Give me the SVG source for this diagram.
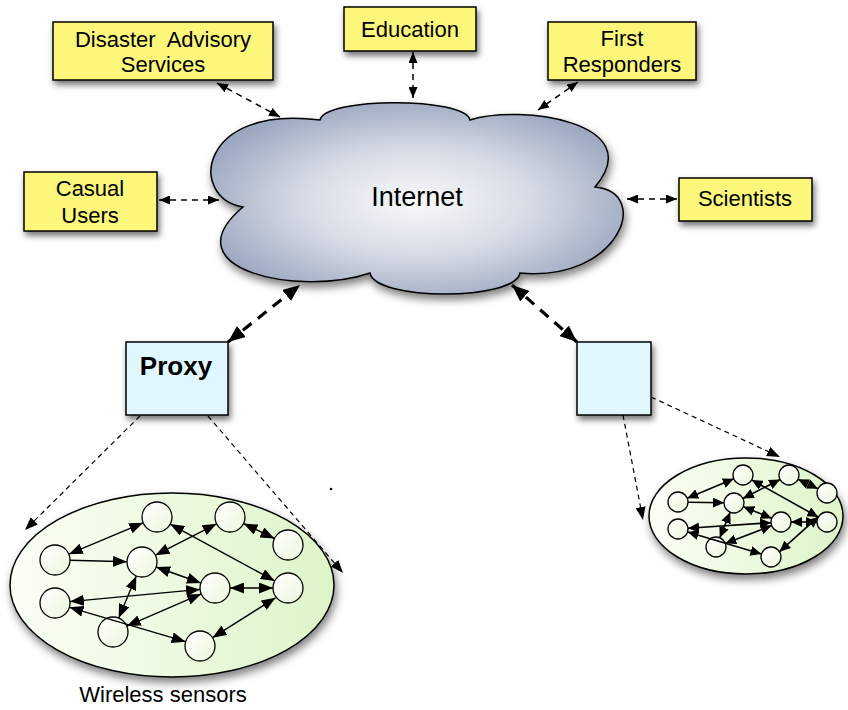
<svg xmlns="http://www.w3.org/2000/svg" width="848" height="710" viewBox="0 0 848 710">
<style>
.box{fill:#fcf77a;stroke:#000;stroke-width:1.5}
.pbox{fill:#e0f7fd;stroke:#000;stroke-width:1.5}
.t{font-family:"Liberation Sans",Arial,sans-serif;font-size:22px;fill:#000;text-anchor:middle}
.dash{fill:none;stroke:#000;stroke-width:1.5;stroke-dasharray:6 5}
.thick{fill:none;stroke:#000;stroke-width:3.2;stroke-dasharray:11 8}
.thin{fill:none;stroke:#000;stroke-width:1.2;stroke-dasharray:5 4}
.sn{fill:url(#gn);stroke:#000;stroke-width:1.3}
.e{fill:none;stroke:#000;stroke-width:1.4}
.es{fill:none;stroke:#000;stroke-width:1.6}
</style>
<defs>
<filter id="sh" x="-20%" y="-20%" width="150%" height="160%"><feDropShadow dx="2" dy="4" stdDeviation="3" flood-color="#000" flood-opacity="0.55"/></filter>
<filter id="shc" x="-10%" y="-10%" width="125%" height="130%"><feDropShadow dx="2" dy="5" stdDeviation="4" flood-color="#000" flood-opacity="0.5"/></filter>
<radialGradient id="gc" cx="0.5" cy="0.52" r="0.62"><stop offset="0" stop-color="#f8f9fb"/><stop offset="0.45" stop-color="#d6dbe5"/><stop offset="1" stop-color="#8e9bb7"/></radialGradient>
<linearGradient id="ge" x1="0" y1="0" x2="1" y2="0"><stop offset="0" stop-color="#fbfff7"/><stop offset="1" stop-color="#ddf4c8"/></linearGradient>
<linearGradient id="gn" x1="0" y1="0" x2="1" y2="1"><stop offset="0" stop-color="#ffffff"/><stop offset="1" stop-color="#eaf8dc"/></linearGradient>
<marker id="ah" viewBox="0 0 10 10" refX="10" refY="5" markerWidth="11" markerHeight="9" markerUnits="userSpaceOnUse" orient="auto-start-reverse" preserveAspectRatio="none"><path d="M0,0 L10,5 L0,10 z" fill="#000"/></marker>
<marker id="ahe" viewBox="0 0 10 10" refX="10" refY="5" markerWidth="14" markerHeight="11" markerUnits="userSpaceOnUse" orient="auto-start-reverse" preserveAspectRatio="none"><path d="M0,0 L10,5 L0,10 z" fill="#000"/></marker>
<marker id="ahb" viewBox="0 0 10 10" refX="10" refY="5" markerWidth="17" markerHeight="14" markerUnits="userSpaceOnUse" orient="auto-start-reverse" preserveAspectRatio="none"><path d="M0,0 L10,5 L0,10 z" fill="#000"/></marker>
<marker id="ahn" viewBox="0 0 10 10" refX="10" refY="5" markerWidth="13" markerHeight="10" markerUnits="userSpaceOnUse" orient="auto-start-reverse" preserveAspectRatio="none"><path d="M0,0 L10,5 L0,10 z" fill="#000"/></marker>
<marker id="ahs" viewBox="0 0 10 10" refX="10" refY="5" markerWidth="11" markerHeight="10" markerUnits="userSpaceOnUse" orient="auto-start-reverse" preserveAspectRatio="none"><path d="M0,0 L10,5 L0,10 z" fill="#000"/></marker>
</defs>

<g id="internet">
<path filter="url(#shc)" fill="url(#gc)" stroke="#000" stroke-width="1.5" d="M320,120 C325,97 465,97 470,120 C520,104 650,122 595,187 C652,192 620,282 520,273 C515,301 375,301 370,273 C300,297 168,270 243,207 C188,198 198,104 320,120 Z"/>
<text class="t" x="417" y="206" style="font-size:27px">Internet</text>
</g>

<g id="disaster">
<rect class="box" filter="url(#sh)" x="53" y="22" width="220" height="58"/>
<text class="t" x="163" y="47">Disaster&#160; Advisory</text>
<text class="t" x="163" y="72">Services</text>
</g>
<g id="education">
<rect class="box" filter="url(#sh)" x="344" y="7" width="132" height="44"/>
<text class="t" x="410" y="37">Education</text>
</g>
<g id="first-responders">
<rect class="box" filter="url(#sh)" x="548" y="22" width="148" height="58"/>
<text class="t" x="622" y="46">First</text>
<text class="t" x="622" y="72">Responders</text>
</g>
<g id="casual-users">
<rect class="box" filter="url(#sh)" x="24" y="172" width="133" height="59"/>
<text class="t" x="90" y="196">Casual</text>
<text class="t" x="90" y="223">Users</text>
</g>
<g id="scientists">
<rect class="box" filter="url(#sh)" x="679" y="178" width="133" height="43"/>
<text class="t" x="745" y="206">Scientists</text>
</g>
<g id="proxy">
<rect class="pbox" filter="url(#sh)" x="126" y="342" width="102" height="73"/>
<text class="t" x="176" y="375" style="font-size:26px;font-weight:bold">Proxy</text>
</g>
<g id="proxy2">
<rect class="pbox" filter="url(#sh)" x="577" y="342" width="74" height="73"/>
</g>

<g id="sensor-net-1">
<ellipse filter="url(#shc)" cx="172" cy="585" rx="162" ry="92" fill="url(#ge)" stroke="#000" stroke-width="1.5"/>
<circle class="sn" cx="157" cy="517" r="15"/>
<circle class="sn" cx="230" cy="517" r="15"/>
<circle class="sn" cx="288" cy="545" r="15"/>
<circle class="sn" cx="55" cy="560" r="15"/>
<circle class="sn" cx="142" cy="562" r="15"/>
<circle class="sn" cx="215" cy="588" r="15"/>
<circle class="sn" cx="288" cy="588" r="15"/>
<circle class="sn" cx="55" cy="603" r="15"/>
<circle class="sn" cx="113" cy="632" r="15"/>
<circle class="sn" cx="200" cy="646" r="15"/>
<text class="t" x="163" y="702">Wireless sensors</text>
</g>

<g id="sensor-net-2">
<ellipse filter="url(#shc)" cx="746" cy="516" rx="97" ry="58" fill="url(#ge)" stroke="#000" stroke-width="1.5"/>
<circle class="sn" cx="743" cy="475" r="10"/>
<circle class="sn" cx="789" cy="475" r="10"/>
<circle class="sn" cx="827" cy="493" r="10"/>
<circle class="sn" cx="678" cy="502" r="10"/>
<circle class="sn" cx="734" cy="503" r="10"/>
<circle class="sn" cx="781" cy="522" r="10"/>
<circle class="sn" cx="827" cy="522" r="10"/>
<circle class="sn" cx="678" cy="529" r="10"/>
<circle class="sn" cx="716" cy="547" r="10"/>
<circle class="sn" cx="771" cy="557" r="10"/>
</g>

<g id="connectors">
<line class="dash" x1="217" y1="83" x2="280" y2="117" marker-start="url(#ah)" marker-end="url(#ah)"/>
<line class="dash" x1="413" y1="52" x2="413" y2="98" marker-start="url(#ah)" marker-end="url(#ah)"/>
<line class="dash" x1="578" y1="82" x2="538" y2="110" marker-start="url(#ah)" marker-end="url(#ah)"/>
<line class="dash" x1="159" y1="200" x2="219" y2="200" marker-start="url(#ah)" marker-end="url(#ah)"/>
<line class="dash" x1="627" y1="199" x2="677" y2="199" marker-start="url(#ah)" marker-end="url(#ah)"/>
<line class="thick" x1="228" y1="342" x2="300" y2="285" marker-start="url(#ahb)" marker-end="url(#ahb)"/>
<line class="thick" x1="577" y1="342" x2="512" y2="285" marker-start="url(#ahb)" marker-end="url(#ahb)"/>
<line class="thin" x1="140" y1="416" x2="25" y2="530" marker-end="url(#ahn)"/>
<line class="thin" x1="208" y1="416" x2="343" y2="573" marker-end="url(#ahn)"/>
<line class="thin" x1="651" y1="397" x2="780" y2="457" marker-end="url(#ahn)"/>
<line class="thin" x1="623" y1="415" x2="643" y2="520" marker-end="url(#ahn)"/>

<line class="e" x1="68.8" y1="554.2" x2="143.2" y2="522.8" marker-start="url(#ahe)" marker-end="url(#ahe)"/>
<line class="e" x1="70" y1="560.3" x2="127" y2="561.7" marker-end="url(#ahe)"/>
<line class="e" x1="155.4" y1="555.2" x2="216.6" y2="523.8" marker-start="url(#ahe)" marker-end="url(#ahe)"/>
<line class="e" x1="243.5" y1="523.5" x2="274.5" y2="538.5" marker-start="url(#ahe)" marker-end="url(#ahe)"/>
<line class="e" x1="170.2" y1="524.1" x2="274.8" y2="580.9" marker-start="url(#ahe)" marker-end="url(#ahe)"/>
<line class="e" x1="156.1" y1="567" x2="200.9" y2="583" marker-start="url(#ahe)" marker-end="url(#ahe)"/>
<line class="e" x1="230" y1="588" x2="273" y2="588" marker-start="url(#ahe)" marker-end="url(#ahe)"/>
<line class="e" x1="69.9" y1="601.6" x2="200.1" y2="589.4" marker-start="url(#ahe)" marker-end="url(#ahe)"/>
<line class="e" x1="136.3" y1="575.9" x2="118.7" y2="618.1" marker-start="url(#ahe)" marker-end="url(#ahe)"/>
<line class="e" x1="126.8" y1="626.1" x2="201.2" y2="593.9" marker-start="url(#ahe)" marker-end="url(#ahe)"/>
<line class="e" x1="69.4" y1="607.3" x2="185.6" y2="641.7" marker-start="url(#ahe)" marker-end="url(#ahe)"/>
<line class="e" x1="212.5" y1="637.7" x2="275.5" y2="597.8" marker-start="url(#ahe)" marker-end="url(#ahe)"/>

<line class="es" x1="687.2" y1="498.2" x2="733.8" y2="478.8" marker-start="url(#ahs)" marker-end="url(#ahs)"/>
<line class="es" x1="688" y1="502.2" x2="724" y2="502.8" marker-end="url(#ahs)"/>
<line class="es" x1="742.9" y1="498.5" x2="780.1" y2="479.5" marker-start="url(#ahs)" marker-end="url(#ahs)"/>
<line class="es" x1="798" y1="479.3" x2="818" y2="488.7" marker-start="url(#ahs)" marker-end="url(#ahs)"/>
<line class="es" x1="751.7" y1="479.9" x2="818.3" y2="517.1" marker-start="url(#ahs)" marker-end="url(#ahs)"/>
<line class="es" x1="743.3" y1="506.7" x2="771.7" y2="518.3" marker-start="url(#ahs)" marker-end="url(#ahs)"/>
<line class="es" x1="791" y1="522" x2="817" y2="522" marker-start="url(#ahs)" marker-end="url(#ahs)"/>
<line class="es" x1="688" y1="528.3" x2="771" y2="522.7" marker-start="url(#ahs)" marker-end="url(#ahs)"/>
<line class="es" x1="730.2" y1="512.3" x2="719.8" y2="537.7" marker-start="url(#ahs)" marker-end="url(#ahs)"/>
<line class="es" x1="725.3" y1="543.4" x2="771.7" y2="525.6" marker-start="url(#ahs)" marker-end="url(#ahs)"/>
<line class="es" x1="687.6" y1="531.9" x2="761.4" y2="554.1" marker-start="url(#ahs)" marker-end="url(#ahs)"/>
<line class="es" x1="779.5" y1="551.7" x2="818.5" y2="516.7" marker-start="url(#ahs)" marker-end="url(#ahs)"/>
</g>
<circle cx="331" cy="489" r="1.3" fill="#000"/>
</svg>
